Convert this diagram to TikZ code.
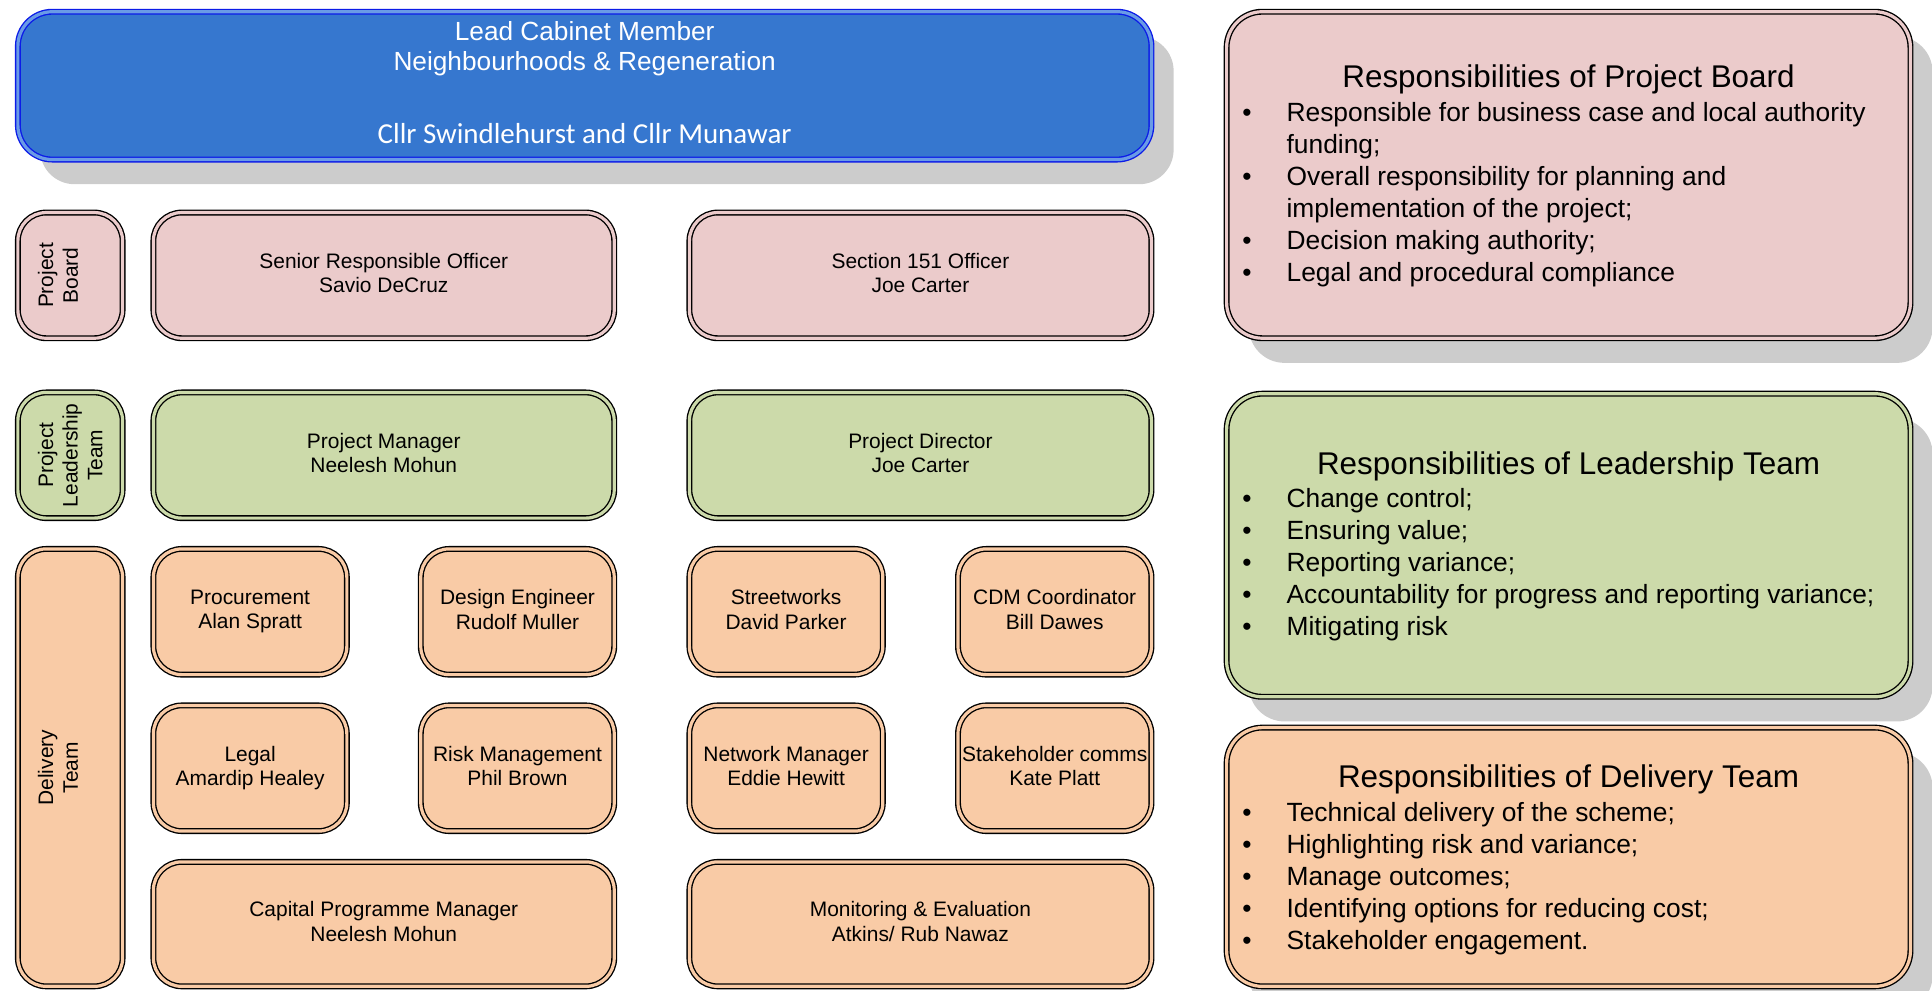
\documentclass[tikz,border=0pt]{standalone}
\usepackage{fontspec}
\setmainfont{Liberation Sans}
\newfontfamily\calibrifont{Carlito}
\usetikzlibrary{shadows}

\definecolor{leadblue}{HTML}{3677CF}
\definecolor{leadedge}{HTML}{0B1BE8}
\definecolor{leadgap}{HTML}{6A9BE6}
\definecolor{boardpink}{HTML}{EBCBCB}
\definecolor{teamgreen}{HTML}{CCDAAA}
\definecolor{deliveryorange}{HTML}{F9CBA6}
\definecolor{shadowgrey}{HTML}{CCCCCC}

\newcommand\boxfont{\fontsize{17}{20}\selectfont}
\newcommand\respfont{\fontsize{21.4}{26}\selectfont}
\newcommand\resptitlefont{\fontsize{25.5}{30}\selectfont}
\newcommand\leadfont{\fontsize{21.3}{25}\selectfont}

\tikzset{
  orgbox/.style={rounded corners=23pt, draw=black, line width=1.1pt,
    double distance=2.6pt, inner sep=0pt, align=center, font=\boxfont,
    text depth=4pt},
  boardbox/.style={orgbox, fill=boardpink, double=boardpink},
  teambox/.style={orgbox, fill=teamgreen, double=teamgreen},
  deliverybox/.style={orgbox, fill=deliveryorange, double=deliveryorange},
  sidelabel/.style={rotate=90, text depth=},
  castshadow/.style={drop shadow={shadow xshift=18pt, shadow yshift=-20pt,
    fill=shadowgrey, opacity=1}},
  respbox/.style={rounded corners=29pt, castshadow},
  resptitle/.style={anchor=base, inner sep=0pt, font=\resptitlefont},
  resplist/.style={anchor=base west, inner sep=0pt, font=\respfont},
  leadtext/.style={anchor=base, inner sep=0pt, text=white, font=\leadfont},
}

% bullet list laid out as two columns: bullet, then text
\newenvironment{duties}{\begin{tabular}[t]{@{}p{36pt}@{}l@{}}}{\end{tabular}}

\begin{document}
\begin{tikzpicture}[x=1pt, y=-1pt]
\useasboundingbox (0,0) rectangle (1568,804);

% cabinet member banner
\node[orgbox, rounded corners=28pt, fill=leadblue, draw=leadedge, double=leadgap,
  castshadow, minimum width=920pt, minimum height=120pt] (lead) at (474.5,69.5) {};
\node[leadtext] (leadrole) at (474.5,32.6) {Lead Cabinet Member};
\node[leadtext] (leadportfolio) at (474.5,57.6) {Neighbourhoods \& Regeneration};
\node[leadtext, font=\calibrifont\fontsize{23.5}{28}\selectfont] (leadnames)
  at (474.5,116.5) {Cllr Swindlehurst and Cllr Munawar};

% project board row
\node[boardbox, sidelabel, minimum width=102pt, minimum height=85pt] (pblabel)
  at (57,223.5) {Project\\Board\\\mbox{}};
\node[boardbox, minimum width=374pt, minimum height=102pt] (sro)
  at (311.5,223.5) {Senior Responsible Officer\\Savio DeCruz};
\node[boardbox, minimum width=375pt, minimum height=102pt] (s151)
  at (747,223.5) {Section 151 Officer\\Joe Carter};

% leadership row
\node[teambox, sidelabel, minimum width=102pt, minimum height=85pt] (pltlabel)
  at (57,369.5) {Project\\Leadership\\Team};
\node[teambox, minimum width=374pt, minimum height=102pt] (pm)
  at (311.5,369.5) {Project Manager\\Neelesh Mohun};
\node[teambox, minimum width=375pt, minimum height=102pt] (pd)
  at (747,369.5) {Project Director\\Joe Carter};

% delivery team
\node[deliverybox, sidelabel, minimum width=355pt, minimum height=85pt] (dtlabel)
  at (57,623) {Delivery\\Team\\\mbox{}};
\node[deliverybox, minimum width=157pt, minimum height=102pt] (proc)
  at (203,496.5) {Procurement\\Alan Spratt};
\node[deliverybox, minimum width=157pt, minimum height=102pt] (design)
  at (420,496.5) {Design Engineer\\Rudolf Muller};
\node[deliverybox, minimum width=157pt, minimum height=102pt] (street)
  at (638,496.5) {Streetworks\\David Parker};
\node[deliverybox, minimum width=157pt, minimum height=102pt] (cdm)
  at (856,496.5) {CDM Coordinator\\Bill Dawes};
\node[deliverybox, minimum width=157pt, minimum height=102pt] (legal)
  at (203,623.5) {Legal\\Amardip Healey};
\node[deliverybox, minimum width=157pt, minimum height=102pt] (risk)
  at (420,623.5) {Risk Management\\Phil Brown};
\node[deliverybox, minimum width=157pt, minimum height=102pt] (network)
  at (638,623.5) {Network Manager\\Eddie Hewitt};
\node[deliverybox, minimum width=157pt, minimum height=102pt] (stake)
  at (856,623.5) {Stakeholder comms\\Kate Platt};
\node[deliverybox, minimum width=374pt, minimum height=101pt] (capital)
  at (311.5,750) {Capital Programme Manager\\Neelesh Mohun};
\node[deliverybox, minimum width=375pt, minimum height=101pt] (monitor)
  at (747,750) {Monitoring \& Evaluation\\Atkins/ Rub Nawaz};

% responsibilities panels
\node[boardbox, respbox, minimum width=555pt, minimum height=265pt] (pbresp)
  at (1273,142) {};
\node[resptitle] (pbtitle) at (1273,71.1) {Responsibilities of Project Board};
\node[resplist] (pblist) at (1008,98.7) {\begin{duties}
  \textbullet & Responsible for business case and local authority\\
              & funding;\\
  \textbullet & Overall responsibility for planning and\\
              & implementation of the project;\\
  \textbullet & Decision making authority;\\
  \textbullet & Legal and procedural compliance
\end{duties}};

\node[teambox, respbox, minimum width=555pt, minimum height=246pt] (ltresp)
  at (1273,442.5) {};
\node[resptitle] (lttitle) at (1273,385.1) {Responsibilities of Leadership Team};
\node[resplist] (ltlist) at (1008,411.7) {\begin{duties}
  \textbullet & Change control;\\
  \textbullet & Ensuring value;\\
  \textbullet & Reporting variance;\\
  \textbullet & Accountability for progress and reporting variance;\\
  \textbullet & Mitigating risk
\end{duties}};

\node[deliverybox, respbox, minimum width=555pt, minimum height=210pt] (dtresp)
  at (1273,695.5) {};
\node[resptitle] (dttitle) at (1273,639.1) {Responsibilities of Delivery Team};
\node[resplist] (dtlist) at (1008,666.7) {\begin{duties}
  \textbullet & Technical delivery of the scheme;\\
  \textbullet & Highlighting risk and variance;\\
  \textbullet & Manage outcomes;\\
  \textbullet & Identifying options for reducing cost;\\
  \textbullet & Stakeholder engagement.
\end{duties}};
\end{tikzpicture}
\end{document}
